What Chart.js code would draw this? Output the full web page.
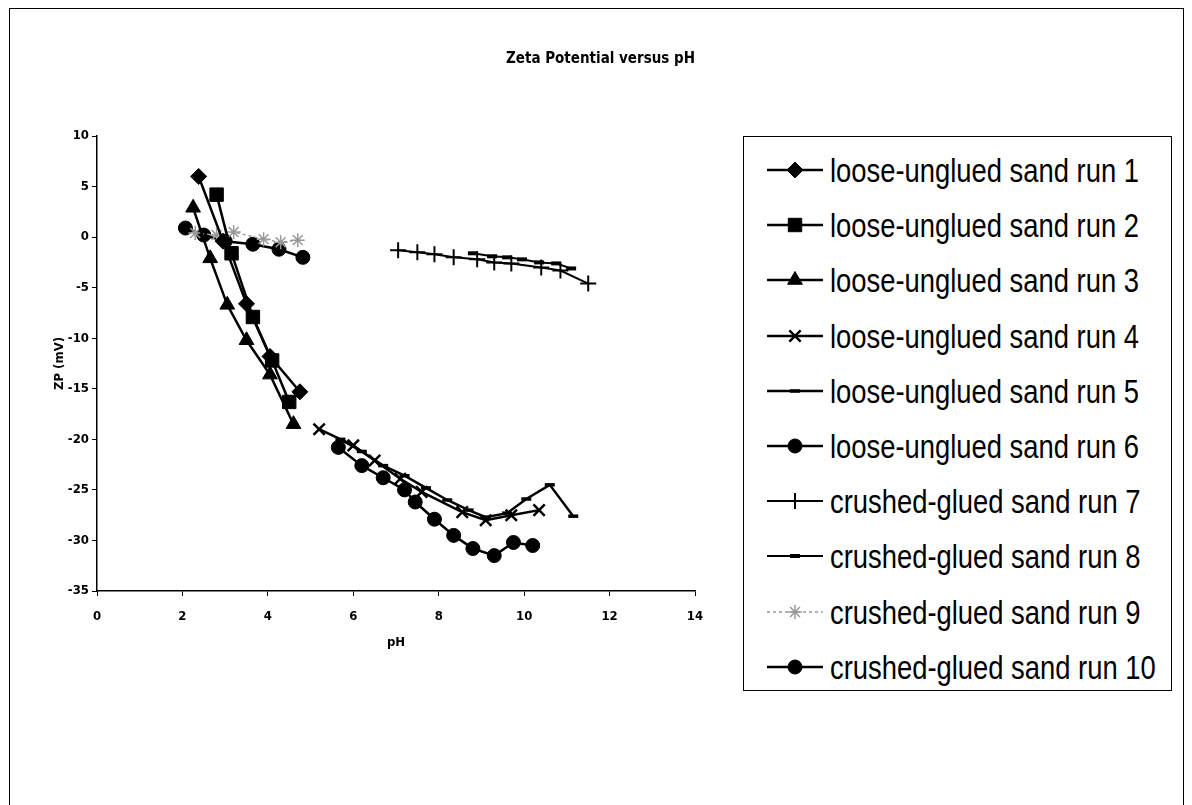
<!DOCTYPE html>
<html>
<head>
<meta charset="utf-8">
<script src="https://cdn.jsdelivr.net/npm/chart.js@4.4.0/dist/chart.umd.min.js"></script>
<style>
body{margin:0;background:#fff;width:1192px;height:805px;overflow:hidden;position:relative;}
#frame{position:absolute;left:9px;top:8px;width:1175px;height:840px;border:1.5px solid #000;box-sizing:border-box;}
#graf{position:absolute;left:0;top:0;}
#leyenda{position:absolute;left:743px;top:136px;width:429px;height:555px;border:1.5px solid #000;box-sizing:border-box;background:#fff;}
.fila{position:absolute;left:0;height:40px;width:429px;}
.fila canvas{position:absolute;left:21px;top:5px;}
.fila span{position:absolute;left:86px;top:0;line-height:40px;font-size:34px;white-space:nowrap;transform-origin:0 50%;
  font-family:'Liberation Sans',Arial,sans-serif;color:#000;}
</style>
</head>
<body>
<div id="frame"></div>
<canvas id="graf" width="1192" height="805"></canvas>
<div id="leyenda"></div>
<script>
const nombres=["loose-unglued sand run 1","loose-unglued sand run 2","loose-unglued sand run 3","loose-unglued sand run 4","loose-unglued sand run 5","loose-unglued sand run 6","crushed-glued sand run 7","crushed-glued sand run 8","crushed-glued sand run 9","crushed-glued sand run 10"];
const xTicks=[0,2,4,6,8,10,12,14];
const yTicks=[-35,-30,-25,-20,-15,-10,-5,0,5,10];

const run1pH=[2.38,2.95,3.5,4.05,4.75];
const run1ZP=[6.0,-0.4,-6.6,-11.8,-15.3];
const run2pH=[2.8,3.15,3.65,4.1,4.5];
const run2ZP=[4.2,-1.6,-7.9,-12.2,-16.3];
const run3pH=[2.25,2.65,3.05,3.5,4.05,4.6];
const run3ZP=[2.9,-2.1,-6.7,-10.2,-13.6,-18.5];
const run4pH=[5.2,6.0,6.5,7.1,7.6,8.55,9.1,9.7,10.35];
const run4ZP=[-19.0,-20.6,-22.1,-23.9,-25.2,-27.2,-28.0,-27.5,-27.0];
const run5pH=[5.7,6.2,6.7,7.2,7.7,8.2,8.7,9.1,9.6,10.05,10.6,11.15];
const run5ZP=[-20.0,-21.2,-22.6,-23.6,-24.8,-26.0,-27.0,-27.7,-27.3,-25.9,-24.5,-27.6];
const run6pH=[5.65,6.2,6.7,7.2,7.45,7.9,8.35,8.8,9.3,9.75,10.2];
const run6ZP=[-20.8,-22.6,-23.8,-25.0,-26.2,-27.9,-29.5,-30.8,-31.5,-30.2,-30.5];
const run7pH=[7.05,7.5,7.9,8.35,8.9,9.3,9.7,10.4,10.85,11.5];
const run7ZP=[-1.3,-1.5,-1.7,-2.0,-2.2,-2.5,-2.6,-3.0,-3.3,-4.6];
const run8pH=[8.8,9.25,9.6,9.95,10.35,10.75,11.1];
const run8ZP=[-1.6,-1.9,-2.0,-2.2,-2.5,-2.6,-3.1];
const run9pH=[2.3,2.8,3.2,3.9,4.3,4.7];
const run9ZP=[0.4,0.2,0.5,-0.2,-0.5,-0.3];
const run10pH=[2.07,2.5,3.0,3.65,4.26,4.82];
const run10ZP=[0.9,0.2,-0.4,-0.7,-1.2,-2.0];

const todosPH=[run1pH,run2pH,run3pH,run4pH,run5pH,run6pH,run7pH,run8pH,run9pH,run10pH];
const todosZP=[run1ZP,run2ZP,run3ZP,run4ZP,run5ZP,run6ZP,run7ZP,run8ZP,run9ZP,run10ZP];

// estilo de cada serie
const estilos=[
  {ps:'rectRot',r:8,pbw:1,bw:2.5,c:'#000'},
  {ps:'rect',r:9.5,pbw:1,bw:2.5,c:'#000'},
  {ps:'triangle',r:8.5,pbw:1,bw:2.5,c:'#000'},
  {ps:'crossRot',r:8,pbw:2.5,bw:2.5,c:'#000'},
  {ps:'line',r:5,pbw:3.5,bw:2.5,c:'#000'},
  {ps:'circle',r:7,pbw:1,bw:2.5,c:'#000'},
  {ps:'cross',r:8,pbw:2,bw:2,c:'#000'},
  {ps:'line',r:5,pbw:4,bw:2,c:'#000'},
  {ps:'star',r:7,pbw:1.5,bw:1.5,c:'#999',dash:[3,3]},
  {ps:'circle',r:7,pbw:1,bw:2.5,c:'#000'}
];

const fuente="'Liberation Sans Narrow','Arial Narrow','DejaVu Sans Condensed','Liberation Sans',sans-serif";

const datasets=nombres.map((n,i)=>({
  label:n,
  data:todosPH[i].map((x,j)=>({x:x,y:todosZP[i][j]})),
  showLine:true,
  fill:false,
  tension:0,
  borderColor:estilos[i].c,
  backgroundColor:estilos[i].c,
  borderWidth:estilos[i].bw,
  borderDash:estilos[i].dash||[],
  pointStyle:estilos[i].ps,
  pointRadius:estilos[i].r,
  pointBorderWidth:estilos[i].pbw,
  pointBorderColor:estilos[i].c,
  pointBackgroundColor:estilos[i].c
}));

const ctx=document.getElementById("graf");
new Chart(ctx,{
  type:'scatter',
  data:{datasets:datasets},
  options:{
    responsive:false,
    animation:false,
    devicePixelRatio:1,
    layout:{padding:{left:40,right:497,top:0,bottom:144}},
    plugins:{
      legend:{display:false},
      tooltip:{enabled:false},
      title:{
        display:true,
        text:'Zeta Potential versus pH',
        align:'end',
        color:'#000',
        font:{family:fuente,size:15,weight:'bold'},
        padding:{top:50,bottom:68}
      }
    },
    scales:{
      x:{
        type:'linear',min:0,max:14,
        afterBuildTicks:s=>{s.ticks=xTicks.map(v=>({value:v}))},
        afterFit:s=>{s.height=70},
        grid:{drawOnChartArea:false,drawTicks:true,tickLength:5,color:'#000'},
        border:{display:true,color:'#000',width:1.5},
        ticks:{color:'#000',padding:13,font:{family:fuente,size:13,weight:'bold'}},
        title:{display:true,text:'pH',color:'#000',font:{family:fuente,size:13,weight:'bold'},padding:{top:4,bottom:11}}
      },
      y:{
        type:'linear',min:-35,max:10,
        afterBuildTicks:s=>{s.ticks=yTicks.map(v=>({value:v}))},
        afterFit:s=>{s.width=57},
        grid:{drawOnChartArea:false,drawTicks:true,tickLength:5,color:'#000'},
        border:{display:true,color:'#000',width:1.5},
        ticks:{color:'#000',padding:3,font:{family:fuente,size:13,weight:'bold'}},
        title:{display:true,text:'ZP (mV)',color:'#000',font:{family:fuente,size:13,weight:'bold'},padding:{top:12,bottom:4}}
      }
    }
  }
});

// leyenda con simbolo de linea + marcador
const leyenda=document.getElementById("leyenda");
const spans=[];
nombres.forEach((n,i)=>{
  const fila=document.createElement("div");
  fila.className="fila";
  fila.style.top=(33+55.2*i-20)+"px";
  const c=document.createElement("canvas");
  c.width=60;c.height=30;
  const g=c.getContext("2d");
  const e=estilos[i];
  g.strokeStyle=e.c;g.fillStyle=e.c;
  g.lineWidth=e.bw;
  g.setLineDash(e.dash||[]);
  g.beginPath();g.moveTo(2,15);g.lineTo(58,15);g.stroke();
  g.setLineDash([]);
  g.lineWidth=e.pbw;
  if(Chart.helpers&&Chart.helpers.drawPoint){
    Chart.helpers.drawPoint(g,{pointStyle:e.ps,radius:e.r,borderWidth:e.pbw,rotation:0},30,15);
  }
  const sp=document.createElement("span");
  sp.textContent=n;
  fila.appendChild(c);
  fila.appendChild(sp);
  leyenda.appendChild(fila);
  spans.push(sp);
});
// ajustar ancho del texto al de la figura original
const w=spans[0].getBoundingClientRect().width;
const k=309/w;
spans.forEach(sp=>{sp.style.transform="scaleX("+k+")"});
</script>
</body>
</html>
